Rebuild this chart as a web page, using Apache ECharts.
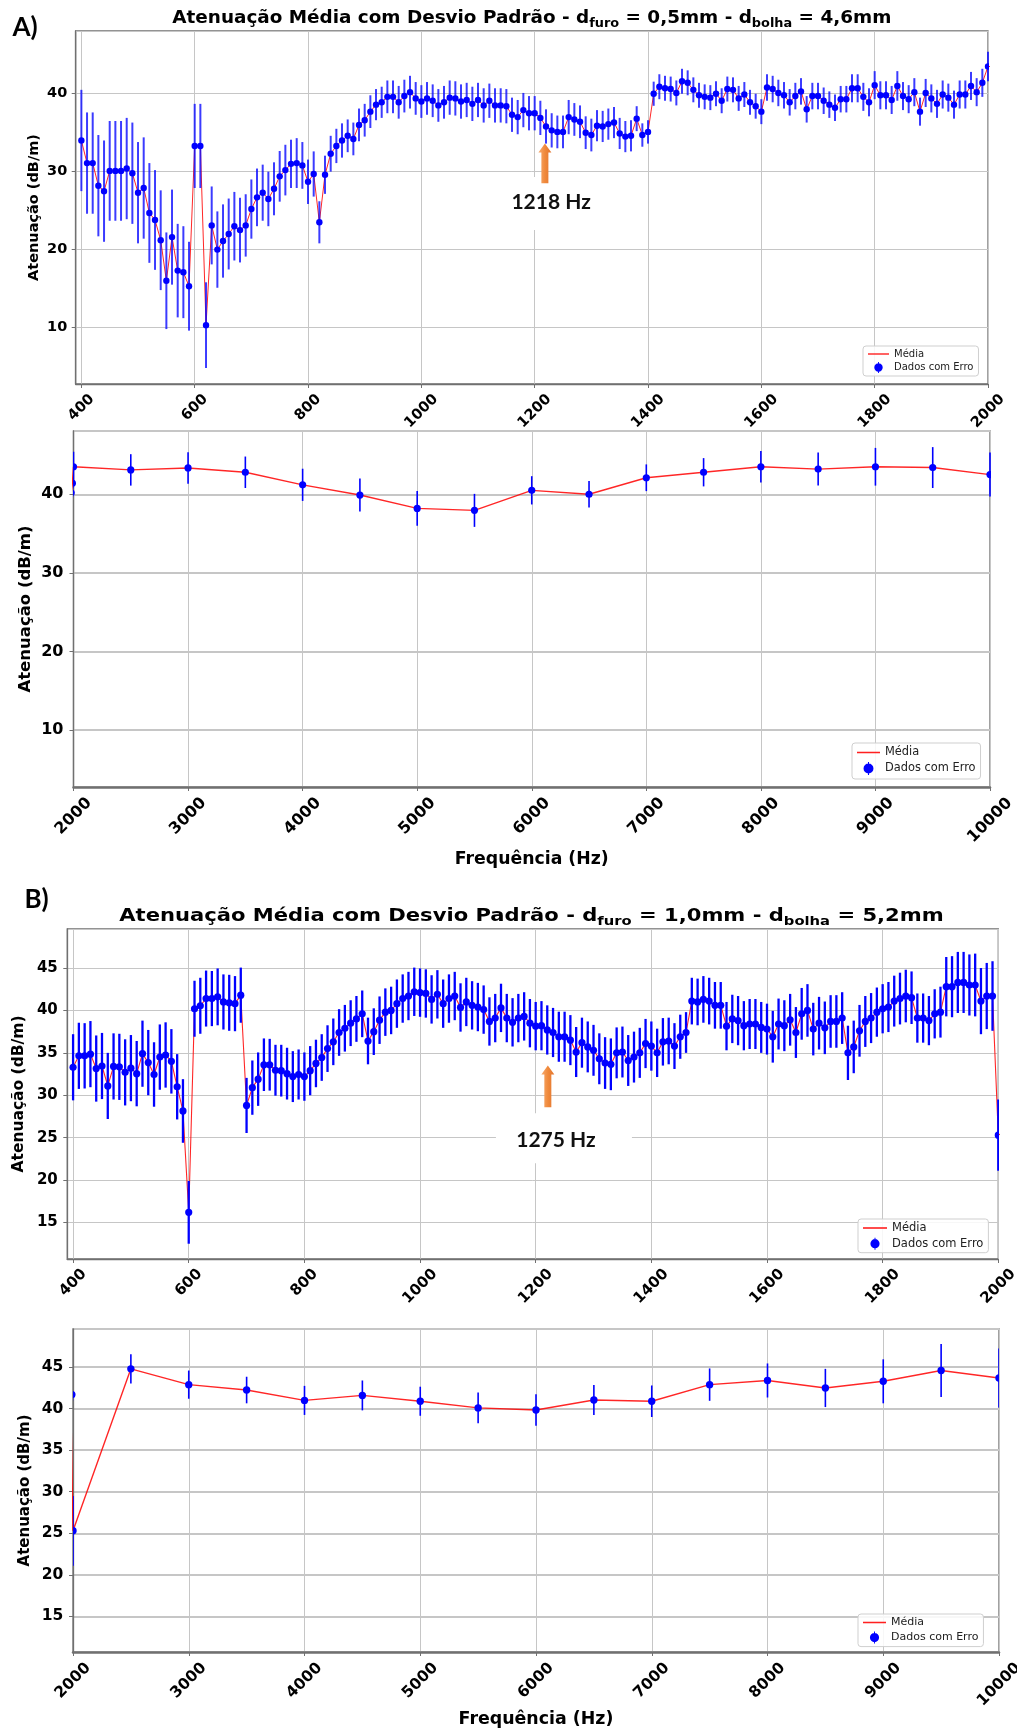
<!DOCTYPE html>
<html><head><meta charset="utf-8">
<script src="https://cdn.jsdelivr.net/npm/echarts@6/dist/echarts.min.js"></script>
<style>html,body{margin:0;padding:0;background:#fff}#c{width:1017px;height:1731px}</style>
</head><body><div id="c"></div>
<script>
// ---------------- DATA ----------------
const freqHz = [
  400,410,420,430,440,450,460,470,480,490,
  500,510,520,530,540,550,560,570,580,590,
  600,610,620,630,640,650,660,670,680,690,
  700,710,720,730,740,750,760,770,780,790,
  800,810,820,830,840,850,860,870,880,890,
  900,910,920,930,940,950,960,970,980,990,
  1000,1010,1020,1030,1040,1050,1060,1070,1080,1090,
  1100,1110,1120,1130,1140,1150,1160,1170,1180,1190,
  1200,1210,1220,1230,1240,1250,1260,1270,1280,1290,
  1300,1310,1320,1330,1340,1350,1360,1370,1380,1390,
  1400,1410,1420,1430,1440,1450,1460,1470,1480,1490,
  1500,1510,1520,1530,1540,1550,1560,1570,1580,1590,
  1600,1610,1620,1630,1640,1650,1660,1670,1680,1690,
  1700,1710,1720,1730,1740,1750,1760,1770,1780,1790,
  1800,1810,1820,1830,1840,1850,1860,1870,1880,1890,
  1900,1910,1920,1930,1940,1950,1960,1970,1980,1990,
  2000,
  2500,3000,3500,4000,4500,5000,5500,6000,6500,7000,7500,8000,8500,9000,9500,10000
];
// A) d_furo = 0,5mm - d_bolha = 4,6mm
const attenA = [
  34.0,31.1,31.1,28.2,27.5,30.1,30.1,30.1,30.4,29.8,
  27.3,27.9,24.7,23.8,21.2,16.0,21.6,17.3,17.1,15.3,
  33.3,33.3,10.3,23.1,20.0,21.1,22.0,23.0,22.5,23.1,
  25.2,26.7,27.3,26.5,27.8,29.4,30.2,31.0,31.1,30.8,
  28.7,29.7,23.5,29.6,32.3,33.3,34.0,34.6,34.2,36.0,
  36.6,37.7,38.6,38.9,39.6,39.6,38.9,39.7,40.2,39.4,
  39.0,39.4,39.1,38.5,38.9,39.5,39.4,39.0,39.2,38.7,
  39.2,38.5,39.1,38.5,38.5,38.4,37.3,37.0,37.9,37.5,
  37.5,36.9,35.8,35.3,35.1,35.1,37.0,36.7,36.4,35.0,
  34.7,35.9,35.8,36.1,36.3,34.9,34.5,34.6,36.8,34.7,
  35.1,40.0,40.9,40.7,40.6,40.1,41.6,41.4,40.5,39.8,
  39.6,39.5,40.0,39.1,40.6,40.5,39.4,39.9,38.9,38.4,
  37.7,40.8,40.6,40.1,39.8,38.9,39.7,40.3,38.0,39.7,
  39.7,39.1,38.6,38.2,39.3,39.3,40.7,40.7,39.6,38.9,
  41.1,39.8,39.8,39.2,41.0,39.7,39.3,40.2,37.7,40.1,
  39.4,38.7,39.9,39.5,38.6,39.9,39.9,41.0,40.2,41.4,
  43.5,
  43.1,43.35,42.8,41.2,39.9,38.2,37.95,40.5,40.0,42.1,42.8,43.5,43.2,43.5,43.4,42.5
];
const errA = [
  6.5,6.5,6.5,6.5,6.5,6.4,6.4,6.4,6.5,6.5,
  6.5,6.5,6.4,6.4,6.4,6.2,6.1,6.0,5.9,5.7,
  5.4,5.4,5.5,5.0,4.9,4.7,4.55,4.4,4.15,4.0,
  3.8,3.7,3.6,3.5,3.4,3.25,3.25,3.1,3.2,3.0,
  2.85,2.9,2.7,2.45,2.3,2.2,2.2,2.1,2.1,2.1,
  2.1,2.1,2.0,2.0,2.1,2.1,2.1,2.1,2.1,2.1,
  2.1,2.1,2.1,2.1,2.1,2.2,2.2,2.2,2.2,2.2,
  2.2,2.2,2.2,2.2,2.2,2.2,2.2,2.2,2.2,2.2,
  2.2,2.2,2.2,2.2,2.1,2.1,2.2,2.1,2.1,2.1,
  2.1,2.0,2.0,2.0,2.0,2.0,2.0,2.0,1.6,1.5,
  1.5,1.55,1.6,1.6,1.6,1.6,1.6,1.6,1.6,1.6,
  1.6,1.6,1.6,1.6,1.6,1.6,1.6,1.6,1.6,1.6,
  1.6,1.7,1.7,1.7,1.7,1.7,1.7,1.7,1.7,1.7,
  1.7,1.7,1.7,1.7,1.7,1.7,1.8,1.8,1.8,1.8,
  1.8,1.8,1.8,1.8,1.9,1.8,1.8,1.8,1.8,1.8,
  1.8,1.8,1.8,1.8,1.8,1.8,1.8,1.8,1.8,1.8,
  1.9,
  2.0,2.0,2.0,2.05,2.1,2.2,2.1,1.8,1.7,1.7,1.8,2.0,2.1,2.4,2.6,2.8
];
// B) d_furo = 1,0mm - d_bolha = 5,2mm
const attenB = [
  33.3,34.65,34.65,34.85,33.15,33.45,31.1,33.4,33.35,32.7,
  33.2,32.55,34.9,33.85,32.45,34.5,34.75,34.0,31.0,28.15,
  16.2,40.2,40.55,41.4,41.4,41.6,41.0,40.9,40.8,41.8,
  28.8,30.9,31.9,33.6,33.6,32.95,32.9,32.55,32.2,32.45,
  32.2,32.9,33.75,34.45,35.5,36.3,37.4,37.9,38.5,39.0,
  39.6,36.4,37.5,38.85,39.8,40.0,40.8,41.4,41.7,42.2,
  42.1,42.0,41.3,41.9,40.8,41.4,41.7,40.35,41.0,40.6,
  40.4,40.1,38.7,39.1,40.3,39.1,38.6,39.1,39.3,38.5,
  38.15,38.2,37.7,37.4,36.9,36.9,36.5,35.1,36.2,35.7,
  35.3,34.3,33.8,33.65,35.0,35.1,34.1,34.5,35.0,36.1,
  35.8,35.0,36.3,36.4,35.8,36.9,37.4,41.1,41.0,41.3,
  41.1,40.6,40.6,38.15,39.0,38.8,38.2,38.4,38.4,38.0,
  37.8,36.9,38.4,38.2,38.9,37.4,39.6,40.0,37.8,38.5,
  37.95,38.7,38.7,39.1,35.0,35.7,37.6,38.7,39.1,39.8,
  40.2,40.4,41.1,41.4,41.7,41.5,39.1,39.1,38.8,39.6,
  39.8,42.8,42.8,43.3,43.3,43.0,43.0,41.1,41.7,41.7,
  25.3,
  44.8,42.9,42.25,41.0,41.6,40.9,40.1,39.85,41.05,40.9,42.9,43.4,42.5,43.3,44.6,43.7
];
const errB = [
  3.9,3.9,3.85,3.9,3.9,3.9,3.9,3.9,3.9,3.9,
  3.9,3.85,3.9,3.85,3.8,3.85,3.85,3.8,3.85,3.75,
  3.7,3.3,3.3,3.3,3.25,3.35,3.25,3.3,3.25,3.25,
  3.25,3.2,3.15,3.1,3.05,3.0,3.05,3.05,3.0,2.95,
  2.85,2.9,2.8,2.75,2.75,2.75,2.75,2.75,2.7,2.7,
  2.75,2.75,2.75,2.8,2.8,2.8,2.85,2.85,2.85,2.85,
  2.85,2.85,2.85,2.85,2.85,2.85,2.85,2.85,2.85,2.85,
  2.85,2.85,2.85,2.85,2.85,2.85,2.85,2.85,2.85,2.85,
  2.85,2.9,2.9,2.9,2.95,2.95,2.95,2.95,2.95,3.0,
  3.0,3.0,3.05,3.05,3.0,3.0,3.0,3.0,2.95,2.9,
  2.9,2.85,2.8,2.75,2.7,2.6,2.4,2.75,2.75,2.75,
  2.75,2.75,2.75,2.85,2.85,2.9,2.9,2.95,2.95,3.0,
  3.0,3.05,3.0,3.0,3.05,3.0,3.05,3.1,3.1,3.1,
  3.1,3.1,3.1,3.05,3.2,3.1,3.05,3.0,2.95,2.9,
  2.9,2.95,3.0,3.05,3.1,3.1,2.9,2.9,2.9,2.9,
  3.0,3.5,3.6,3.6,3.6,3.6,3.7,3.9,3.9,4.1,
  4.2,
  1.75,1.7,1.6,1.75,1.8,1.75,1.85,1.9,1.8,1.9,1.95,2.05,2.3,2.65,3.2,3.55
];
const titleA = 'Atenuação Média com Desvio Padrão - d{s|furo} = 0,5mm - d{s|bolha} = 4,6mm';
const titleB = 'Atenuação Média com Desvio Padrão - d{s|furo} = 1,0mm - d{s|bolha} = 5,2mm';
const yName = 'Atenuação (dB/m)';
const xName = 'Frequência (Hz)';
const legendNames = ['Média', 'Dados com Erro'];
const noteA = {label: '1218 Hz', arrowHz: 1218, arrowFrom: 28.5, arrowTo: 33.6, textHz: 1229, textVal: 26.1};
const noteB = {label: '1275 Hz', arrowHz: 1221, arrowFrom: 28.6, arrowTo: 33.5, textHz: 1235, textVal: 24.7};

// ---------------- LAYOUT ----------------
const FONT = 'DejaVu Sans';
const rowsA = freqHz.map((f, i) => [f, attenA[i], errA[i]]);
const rowsB = freqHz.map((f, i) => [f, attenB[i], errB[i]]);

const panels = [
  {grid:{left:75.7,top:31,width:912.3,height:353}, x:[390,2000], y:[2.75,48.05], ySplit:5, showMinX:false,
   tickFs:14.5, xMargin:27.2, yMargin:8.4, nameFs:14.5, nameGap:33.5, xName:null, botW:1.3,
   r:3.2, barW:2, barColor:'rgba(10,10,255,0.8)', lineW:1, hSplitW:1,
   leg:{left:863, top:346, fs:10, ih:11, gap:3, iw:21, pad:[3,5,3,5]}, rows:rowsA},
  {grid:{left:73.5,top:431,width:916.5,height:356}, x:[2000,10000], y:[2.75,48.05], ySplit:5, showMinX:true,
   tickFs:16, xMargin:29.3, yMargin:10, nameFs:16.5, nameGap:39, xName:xName, xNameFs:17.3, xNameGap:64.4, botW:2.5,
   r:3.6, barW:1.6, barColor:'#0000ff', lineW:1.4, hSplitW:2,
   leg:{left:852, top:743, fs:11.4, ih:13, gap:4, iw:23, pad:[4,5,4,5]}, rows:rowsA},
  {grid:{left:67.3,top:929,width:931,height:330}, x:[390,2000], y:[10.7,49.6], ySplit:8, showMinX:false,
   tickFs:15, xMargin:27.5, yMargin:9.5, nameFs:15.5, nameGap:40, xName:null, botW:1.3,
   r:3.6, barW:2.3, barColor:'#0000ff', lineW:1.1, hSplitW:1,
   leg:{left:858, top:1219, fs:11.5, ih:12, gap:3.7, iw:24, pad:[3,5,3,5]}, rows:rowsB},
  {grid:{left:73,top:1329,width:926,height:323}, x:[2000,10000], y:[10.7,49.6], ySplit:8, showMinX:true,
   tickFs:15.5, xMargin:28.7, yMargin:9.6, nameFs:15, nameGap:40, xName:xName, xNameFs:17.4, xNameGap:59.3, botW:2.5,
   r:3.7, barW:1.6, barColor:'#0000ff', lineW:1.4, hSplitW:2,
   leg:{left:858, top:1614, fs:11, ih:12, gap:3.6, iw:23, pad:[3,5,3,5]}, rows:rowsB}
];

const errIcon = 'path://M9.3,1.5h1.4v17h-1.4z M3.5,10a6.5,6.5 0 1,1 13,0a6.5,6.5 0 1,1 -13,0z';
const lineIcon = 'path://M0,0h30v2h-30z';

const grids = [], xAxes = [], yAxes = [], series = [], legends = [];
panels.forEach((p, i) => {
  grids.push(Object.assign({show:true, borderColor:'#707070', borderWidth:1.3, backgroundColor:'#fff',
    containLabel:false, outerBoundsMode:'none'}, p.grid));
  const pad = 0.35 * p.tickFs;
  const tf = {fontFamily:FONT, fontWeight:'bold', fontSize:p.tickFs, color:'#000'};
  xAxes.push({
    type:'value', gridIndex:i, min:p.x[0], max:p.x[1], splitNumber:8,
    name: p.xName || '', nameLocation:'middle', nameGap:p.xNameGap || 0, nameMoveOverlap:false,
    nameTextStyle:{fontFamily:FONT, fontWeight:'bold', fontSize:p.xNameFs || 12, color:'#000'},
    axisLine:{show:true, onZero:false, lineStyle:{color:'#707070', width:p.botW}},
    axisTick:{show:true, length:4, lineStyle:{color:'#707070', width:1}},
    splitLine:{show:true, lineStyle:{color:'#c6c6c6', width:1}},
    axisLabel:Object.assign({
      show:true, rotate:45, align:'center', verticalAlign:'middle', margin:p.xMargin,
      showMinLabel:p.showMinX, showMaxLabel:true, hideOverlap:false,
      formatter: v => { const s = String(v); const k = s.length < 4 ? 'd3' : (s.length > 4 ? 'd5' : 'd4'); return '{' + k + '|' + s + '}'; },
      rich:{ d3:Object.assign({padding:[0,0,pad,pad]}, tf), d4:Object.assign({}, tf), d5:Object.assign({padding:[pad,pad,0,0]}, tf) }
    }, tf)
  });
  yAxes.push({
    type:'value', gridIndex:i, min:p.y[0], max:p.y[1], splitNumber:p.ySplit,
    name:yName, nameLocation:'middle', nameGap:p.nameGap, nameMoveOverlap:false,
    nameTextStyle:{fontFamily:FONT, fontWeight:'bold', fontSize:p.nameFs, color:'#000'},
    axisLine:{show:true, lineStyle:{color:'#707070', width:1.3}},
    axisTick:{show:true, length:4, lineStyle:{color:'#707070', width:1}},
    splitLine:{show:true, lineStyle:{color:'#c6c6c6', width:p.hSplitW}},
    axisLabel:Object.assign({margin:p.yMargin, showMinLabel:false, showMaxLabel:false}, tf)
  });
  series.push({
    type:'line', name:'Média', xAxisIndex:i, yAxisIndex:i, clip:true, silent:true,
    symbol:'none', showSymbol:false, animation:false, z:2,
    lineStyle:{color:'rgba(255,0,0,0.85)', width:p.lineW}, itemStyle:{color:'#ff0000'},
    data:p.rows.map(r => [r[0], r[1]])
  });
  series.push({
    type:'custom', name:'Dados com Erro', xAxisIndex:i, yAxisIndex:i, clip:true, silent:true, z:3,
    itemStyle:{color:'#0000ff'}, encode:{x:0, y:1}, data:p.rows,
    renderItem:(params, api) => {
      const x = api.value(0), y = api.value(1), e = api.value(2);
      const t = api.coord([x, y + e]), b = api.coord([x, y - e]);
      return {type:'line', shape:{x1:t[0], y1:t[1], x2:b[0], y2:b[1]}, style:{stroke:p.barColor, lineWidth:p.barW}};
    }
  });
  series.push({
    type:'custom', name:'Dados com Erro', xAxisIndex:i, yAxisIndex:i, clip:true, silent:true, z:4,
    itemStyle:{color:'#0000ff'}, encode:{x:0, y:1}, data:p.rows,
    renderItem:(params, api) => {
      const c = api.coord([api.value(0), api.value(1)]);
      return {type:'circle', shape:{cx:c[0], cy:c[1], r:p.r}, style:{fill:'#0000ff'}};
    }
  });
  legends.push({
    show:true, left:p.leg.left, top:p.leg.top, orient:'vertical', selectedMode:false,
    itemWidth:p.leg.iw, itemHeight:p.leg.ih, itemGap:p.leg.gap, padding:p.leg.pad,
    backgroundColor:'rgba(255,255,255,0.85)', borderColor:'#cfcfcf', borderWidth:1, borderRadius:3,
    textStyle:{fontFamily:FONT, fontSize:p.leg.fs, color:'#222'},
    data:[{name:legendNames[0], icon:lineIcon, itemStyle:{color:'#ff2020'}},
          {name:legendNames[1], icon:errIcon, itemStyle:{color:'#0000ff'}}]
  });
});

const chart = echarts.init(document.getElementById('c'), null, {renderer:'canvas', width:1017, height:1731});
chart.setOption({
  animation:false, backgroundColor:'#fff',
  grid:grids, xAxis:xAxes, yAxis:yAxes, series:series, legend:legends
});

// ---------------- TITLES & ANNOTATIONS ----------------
function titleEl(text, x, y, fs, sx) {
  return {type:'text', x:x, y:y, scaleX:sx, z:10, silent:true,
    style:{text:text, fontFamily:FONT, fontWeight:'bold', fontSize:fs, fill:'#000', align:'center', verticalAlign:'middle', lineHeight:24,
      rich:{s:{fontFamily:FONT, fontWeight:'bold', fontSize:fs*0.7, fill:'#000', lineHeight:12, padding:[12,0,0,0]}}}};
}
function noteEls(gi, note, boxDx, boxDy) {
  const tb = chart.convertToPixel({gridIndex:gi}, [note.arrowHz, note.arrowFrom]);
  const tt = chart.convertToPixel({gridIndex:gi}, [note.arrowHz, note.arrowTo]);
  const tc = chart.convertToPixel({gridIndex:gi}, [note.textHz, note.textVal]);
  const xb = tb[0], yb = tb[1], yt = tt[1];
  return [
    {type:'rect', z:8, silent:true, shape:{x:tc[0] + boxDx[0], y:tc[1] + boxDy[0], width:boxDx[1] - boxDx[0], height:boxDy[1] - boxDy[0]}, style:{fill:'#ffffff'}},
    {type:'polygon', z:9, silent:true, shape:{points:[[xb-3.5,yb],[xb-3.5,yt+9],[xb-6.5,yt+9],[xb,yt],[xb+6.5,yt+9],[xb+3.5,yt+9],[xb+3.5,yb]]},
      style:{fill:{type:'linear', x:0, y:0, x2:1, y2:0, colorStops:[{offset:0, color:'#f7ab70'},{offset:0.5, color:'#f08a3c'},{offset:1, color:'#e2732c'}]}}},
    {type:'text', z:10, silent:true, x:tc[0], y:tc[1], style:{text:note.label, fontFamily:'Lato', fontWeight:'bold', fontSize:21, fill:'#111', align:'center', verticalAlign:'middle'}}
  ];
}
const gfx = [
  titleEl(titleA, 531.8, 17.9, 18.4, 1),
  titleEl(titleB, 531.5, 916, 18.5, 1.14),
  {type:'text', x:12.5, y:27.5, z:10, silent:true, style:{text:'A)', fontFamily:'Lato', fontWeight:'bold', fontSize:26, fill:'#000', align:'left', verticalAlign:'middle'}},
  {type:'text', x:24.5, y:899.5, z:10, silent:true, style:{text:'B)', fontFamily:'Lato', fontWeight:'bold', fontSize:26, fill:'#000', align:'left', verticalAlign:'middle'}}
].concat(noteEls(0, noteA, [-60, 76], [-25, 28])).concat(noteEls(2, noteB, [-60, 76], [-27, 23]));
chart.setOption({graphic:{elements:gfx}});
</script>
</body></html>
